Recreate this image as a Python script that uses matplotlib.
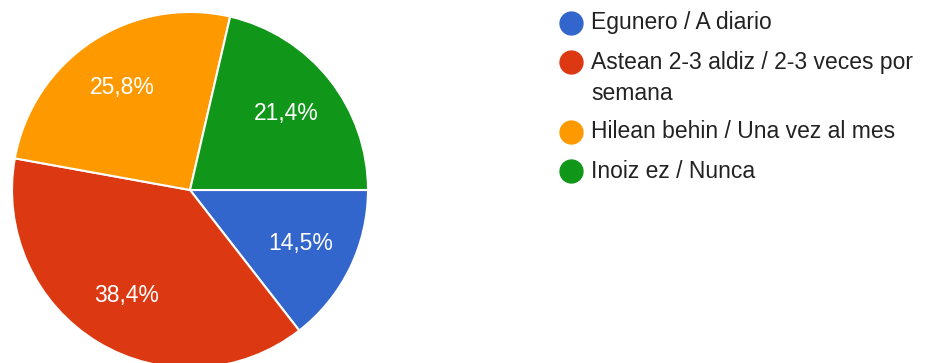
import matplotlib
matplotlib.use("Agg")
import matplotlib.pyplot as plt
from matplotlib.lines import Line2D

plt.rcParams['font.family'] = ['Liberation Sans', 'DejaVu Sans']

# erantzunak / respuestas
labels = ['Egunero / A diario',
          'Astean 2-3 aldiz / 2-3 veces por\nsemana',
          'Hilean behin / Una vez al mes',
          'Inoiz ez / Nunca']
values = [14.5, 38.4, 25.8, 21.4]
colors = ['#3366cc', '#dc3912', '#ff9900', '#109618']

W, H = 932, 363
fig = plt.figure(figsize=(W / 100, H / 100), dpi=100)
ax = fig.add_axes([12 / W, -5 / H, 356 / W, 356 / H])

wedges, texts, autotexts = ax.pie(
    values, colors=colors, startangle=0, counterclock=False,
    autopct=lambda p: ('%.1f%%' % p).replace('.', ','),
    pctdistance=0.69,
    wedgeprops=dict(edgecolor='white', linewidth=1.5),
    textprops=dict(color='white', fontsize=16.5))
ax.set_xlim(-1, 1)
ax.set_ylim(-1, 1)
ax.set_aspect('equal')
ax.axis('off')

# legend drawn by hand so the wrapped entry keeps its dot on the first line
y = 23
for lab, c in zip(labels, colors):
    fig.add_artist(Line2D([571 / W], [1 - y / H], transform=fig.transFigure,
                          marker='o', linestyle='', markersize=16.5,
                          markerfacecolor=c, markeredgecolor=c))
    for line in lab.split('\n'):
        fig.text(591 / W, 1 - y / H, line, va='center', ha='left',
                 fontsize=16.5, color='#222222')
        y += 31
    y += 8

fig.savefig('out.png', dpi=100)
